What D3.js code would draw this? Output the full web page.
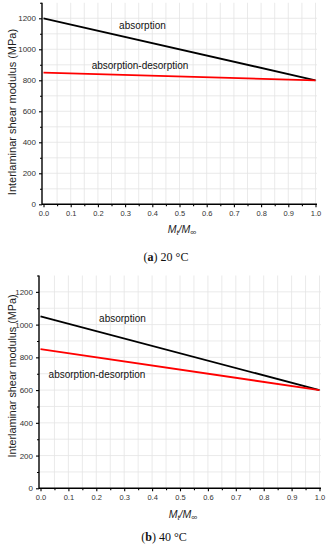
<!DOCTYPE html>
<html lang="en">
<head>
  <meta charset="UTF-8">
  <title>Interlaminar shear modulus</title>
  <script src="https://d3js.org/d3.v7.min.js"></script>
  <style>
    body { margin: 0; background: #fff; }
    svg { display: block; font-family: 'Liberation Sans', Arial, sans-serif; }
    .grid line { stroke: #e4e4e4; stroke-width: 0.8; }
    .tick-lbl { fill: #333; font-family: 'Liberation Sans', Arial, sans-serif; }
    .caption { font-family: 'Liberation Serif', 'Times New Roman', serif; font-size: 12px; fill: #111; }
  </style>
</head>
<body>
  <svg width="328" height="550"></svg>
  <script>
    // moisture ratio Mt/M∞
    const xPoints = [0, 1];
    // panel (a) 20 °C
    const absorption20 = [1200, 800];
    const absDes20 = [850, 800];
    // panel (b) 40 °C
    const absorption40 = [1050, 600];
    const absDes40 = [850, 600];

    const xTicks = [0, 0.1, 0.2, 0.3, 0.4, 0.5, 0.6, 0.7, 0.8, 0.9, 1.0];
    const yTicks = [0, 200, 400, 600, 800, 1000, 1200];

    const panels = [
      {
        series: [absorption20, absDes20], caption: ['a', ' 20 °C'],
        xr: [43.5, 315.5], yr: [204.3, 2.8], axX: 42,
        notes: [{ t: 'absorption', x: 0.278, y: 1131 }, { t: 'absorption-desorption', x: 0.177, y: 873 }],
        yTitle: [12, 112, 11], xTitleY: 233, xTitleX: 182, capY: 261, capX: 166
      },
      {
        series: [absorption40, absDes40], caption: ['b', ' 40 °C'],
        xr: [40.5, 319.5], yr: [488.3, 275.5], axX: 39,
        notes: [{ t: 'absorption', x: 0.21, y: 1013 }, { t: 'absorption-desorption', x: 0.029, y: 674 }],
        yTitle: [12, 376, 10.8], xTitleY: 518, xTitleX: 183, capY: 541, capX: 164
      }
    ];
    const colors = ['#000', '#ff0000'];

    const svg = d3.select('svg');

    panels.forEach(p => {
      const x = d3.scaleLinear().domain([0, 1]).range(p.xr);
      const y = d3.scaleLinear().domain([0, 1300]).range(p.yr);
      const g = svg.append('g');
      const x0 = p.axX, x1 = p.xr[1] + 1.5;

      // grid
      const grid = g.append('g').attr('class', 'grid');
      grid.selectAll('.v').data(d3.range(1, 21).map(i => i * 0.05)).enter().append('line')
        .attr('x1', d => x(d)).attr('x2', d => x(d))
        .attr('y1', y(0)).attr('y2', y(1300));
      grid.selectAll('.h').data(d3.range(1, 13).map(i => i * 100)).enter().append('line')
        .attr('x1', x0).attr('x2', x1)
        .attr('y1', d => y(d)).attr('y2', d => y(d));

      // data lines
      const line = d3.line().x((d, i) => x(xPoints[i])).y(d => y(d));
      p.series.forEach((s, i) => {
        g.append('path').attr('d', line(s))
          .attr('fill', 'none').attr('stroke', colors[i]).attr('stroke-width', 1.8);
      });

      // axes
      const xa = g.append('g').attr('transform', `translate(0,${y(0)})`)
        .call(d3.axisBottom(x).tickValues(xTicks).tickSize(3).tickPadding(3).tickFormat(d3.format('.1f')));
      xa.select('.domain').remove();
      g.append('g').attr('transform', `translate(0,${y(0)})`)
        .call(d3.axisBottom(x).tickValues(d3.range(0, 10).map(i => i * 0.1 + 0.05)).tickSize(2).tickFormat(''))
        .select('.domain').remove();
      const ya = g.append('g').attr('transform', `translate(${x0},0)`)
        .call(d3.axisLeft(y).tickValues(yTicks).tickSize(3).tickPadding(3).tickFormat(d3.format('d')));
      ya.select('.domain').remove();
      g.append('g').attr('transform', `translate(${x0},0)`)
        .call(d3.axisLeft(y).tickValues([100, 300, 500, 700, 900, 1100, 1300]).tickSize(2).tickFormat(''))
        .select('.domain').remove();
      g.selectAll('.tick line').attr('stroke', '#000').attr('stroke-width', 1.1);
      xa.selectAll('text').attr('class', 'tick-lbl').style('font-size', '7.5px');
      ya.selectAll('text').attr('class', 'tick-lbl').style('font-size', '8px');
      g.append('line').attr('x1', x0).attr('x2', x0).attr('y1', y(1300)).attr('y2', y(0) + 0.5)
        .attr('stroke', '#000').attr('stroke-width', 1.4);
      g.append('line').attr('x1', x0).attr('x2', x1).attr('y1', y(0)).attr('y2', y(0))
        .attr('stroke', '#000').attr('stroke-width', 1.4);

      // annotations
      p.notes.forEach(n => {
        g.append('text').attr('x', x(n.x)).attr('y', y(n.y))
          .style('font-size', '10px').attr('fill', '#111').text(n.t);
      });

      // axis titles
      g.append('text')
        .attr('transform', `translate(${p.yTitle[0]},${p.yTitle[1]}) rotate(-90)`)
        .attr('text-anchor', 'middle').attr('dominant-baseline', 'central')
        .style('font-size', p.yTitle[2] + 'px').attr('fill', '#222')
        .text('Interlaminar shear modulus (MPa)');
      const xt = g.append('text').attr('x', p.xTitleX).attr('y', p.xTitleY)
        .attr('text-anchor', 'middle').style('font-size', '10.5px').style('font-style', 'italic').attr('fill', '#222');
      xt.append('tspan').text('M');
      xt.append('tspan').attr('dy', 2).style('font-size', '7.5px').text('t');
      xt.append('tspan').attr('dy', -2).text('/M');
      xt.append('tspan').attr('dy', 2).style('font-size', '8.5px').style('font-style', 'normal').text('∞');

      // caption
      const cap = g.append('text').attr('class', 'caption').attr('x', p.capX).attr('y', p.capY)
        .attr('text-anchor', 'middle');
      cap.append('tspan').text('(');
      cap.append('tspan').style('font-weight', 'bold').text(p.caption[0]);
      cap.append('tspan').text(')' + p.caption[1]);
    });
  </script>
</body>
</html>
